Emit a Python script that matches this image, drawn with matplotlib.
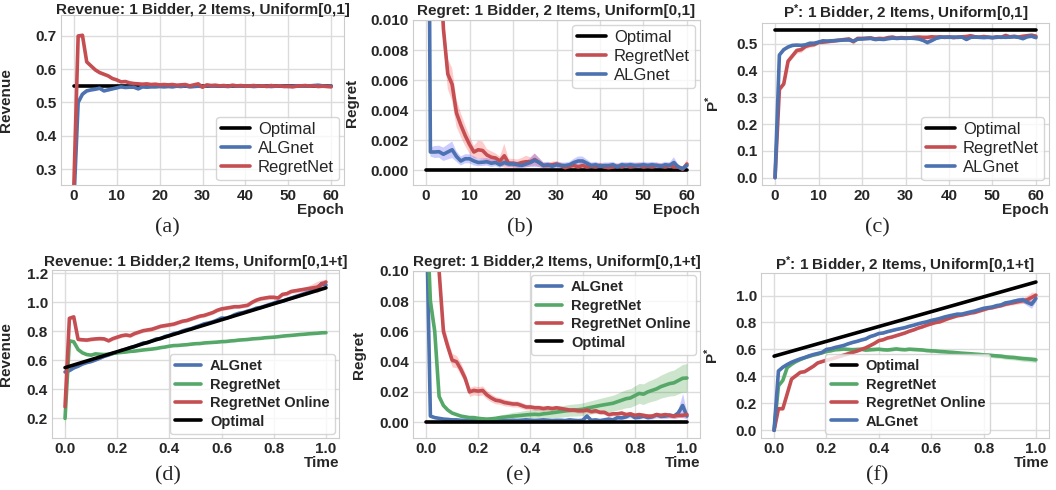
import numpy as np
import matplotlib
matplotlib.use("Agg")
import matplotlib.pyplot as plt
import seaborn as sns

sns.set_style("whitegrid")
plt.rcParams['font.family'] = ['Liberation Sans', 'DejaVu Sans']
plt.rcParams['mathtext.fontset'] = 'custom'
plt.rcParams['mathtext.rm'] = 'Liberation Sans:bold'
plt.rcParams['mathtext.it'] = 'Liberation Sans:bold'
plt.rcParams['mathtext.bf'] = 'Liberation Sans:bold'

BLUE, RED, GREEN = "#4C72B0", "#C44E52", "#55A868"

# ---------------- data: top row (epochs 0..60) ----------------
epochs = list(range(61))
optimal_top = 0.55

a_regretnet = [0.250, 0.700, 0.702, 0.622, 0.610, 0.598, 0.590, 0.585, 0.580, 0.572,
               0.568, 0.562, 0.563, 0.559, 0.557, 0.556, 0.555, 0.556, 0.554, 0.555,
               0.553, 0.554, 0.553, 0.554, 0.552, 0.553, 0.554, 0.550, 0.553, 0.556,
               0.546, 0.553, 0.551, 0.552, 0.550, 0.551, 0.549, 0.552, 0.550, 0.551,
               0.549, 0.550, 0.551, 0.549, 0.550, 0.548, 0.551, 0.549, 0.550, 0.548,
               0.549, 0.547, 0.549, 0.550, 0.551, 0.549, 0.550, 0.548, 0.549, 0.548, 0.547]
a_regretnet_sd = [0.004, 0.006, 0.006, 0.005, 0.005, 0.005, 0.005, 0.004, 0.004, 0.004,
                  0.004, 0.003, 0.003, 0.003, 0.003, 0.003, 0.003, 0.003, 0.003, 0.003,
                  0.003, 0.003, 0.003, 0.003, 0.003, 0.003, 0.003, 0.003, 0.003, 0.003,
                  0.003, 0.003, 0.003, 0.003, 0.003, 0.003, 0.003, 0.003, 0.003, 0.003,
                  0.003, 0.003, 0.003, 0.003, 0.003, 0.003, 0.003, 0.003, 0.003, 0.003,
                  0.003, 0.003, 0.003, 0.003, 0.003, 0.003, 0.003, 0.003, 0.003, 0.003, 0.003]
a_algnet = [0.200, 0.500, 0.525, 0.535, 0.538, 0.540, 0.543, 0.535, 0.538, 0.541,
            0.544, 0.547, 0.545, 0.546, 0.546, 0.541, 0.547, 0.546, 0.547, 0.547,
            0.548, 0.547, 0.548, 0.547, 0.549, 0.548, 0.550, 0.547, 0.548, 0.549,
            0.548, 0.550, 0.549, 0.549, 0.550, 0.549, 0.548, 0.550, 0.549, 0.549,
            0.550, 0.549, 0.548, 0.549, 0.550, 0.549, 0.548, 0.549, 0.550, 0.549,
            0.548, 0.549, 0.550, 0.549, 0.549, 0.550, 0.551, 0.552, 0.550, 0.549, 0.550]
a_algnet_sd = [0.004, 0.005, 0.004, 0.004, 0.004, 0.004, 0.004, 0.004, 0.004, 0.003,
               0.003, 0.003, 0.003, 0.003, 0.003, 0.003, 0.003, 0.003, 0.003, 0.003,
               0.003, 0.003, 0.003, 0.003, 0.003, 0.003, 0.003, 0.003, 0.003, 0.003,
               0.003, 0.003, 0.003, 0.003, 0.003, 0.003, 0.003, 0.003, 0.003, 0.003,
               0.003, 0.003, 0.003, 0.003, 0.003, 0.003, 0.003, 0.003, 0.003, 0.003,
               0.003, 0.003, 0.003, 0.003, 0.003, 0.003, 0.003, 0.003, 0.003, 0.003, 0.003]

b_algnet = [0.0500, 0.00120, 0.00120, 0.00122, 0.00105, 0.00120, 0.00135, 0.00090, 0.00060, 0.00075,
            0.00075, 0.00060, 0.00050, 0.00052, 0.00055, 0.00045, 0.00050, 0.00035, 0.00050, 0.00040,
            0.00040, 0.00035, 0.00030, 0.00040, 0.00050, 0.00065, 0.00050, 0.00030, 0.00035, 0.00025,
            0.00035, 0.00030, 0.00030, 0.00035, 0.00050, 0.00060, 0.00060, 0.00045, 0.00030, 0.00035,
            0.00025, 0.00030, 0.00030, 0.00035, 0.00020, 0.00035, 0.00030, 0.00035, 0.00030, 0.00030,
            0.00035, 0.00030, 0.00035, 0.00030, 0.00025, 0.00035, 0.00030, 0.00050, 0.00020, 0.00010, 0.00030]
b_algnet_sd = [0.0050, 0.00030, 0.00040, 0.00040, 0.00045, 0.00050, 0.00055, 0.00035, 0.00030, 0.00030,
               0.00030, 0.00030, 0.00025, 0.00025, 0.00025, 0.00025, 0.00025, 0.00020, 0.00020, 0.00020,
               0.00020, 0.00020, 0.00020, 0.00020, 0.00030, 0.00045, 0.00030, 0.00020, 0.00020, 0.00020,
               0.00020, 0.00020, 0.00020, 0.00020, 0.00025, 0.00030, 0.00030, 0.00025, 0.00020, 0.00020,
               0.00020, 0.00020, 0.00020, 0.00020, 0.00020, 0.00020, 0.00020, 0.00020, 0.00020, 0.00020,
               0.00020, 0.00020, 0.00020, 0.00020, 0.00020, 0.00020, 0.00020, 0.00035, 0.00015, 0.00010, 0.00020]
b_regretnet = [0.0600, 0.0400, 0.0250, 0.0150, 0.0094, 0.0064, 0.0057, 0.0038, 0.0030, 0.0023,
               0.0017, 0.0012, 0.00135, 0.00130, 0.00100, 0.00085, 0.00080, 0.00060, 0.00095, 0.00045,
               0.00045, 0.00040, 0.00050, 0.00055, 0.00055, 0.00070, 0.00050, 0.00030, 0.00030, 0.00035,
               0.00040, 0.00030, 0.00015, 0.00025, 0.00030, 0.00020, 0.00030, 0.00020, 0.00025, 0.00020,
               0.00030, 0.00020, 0.00015, 0.00020, 0.00025, 0.00020, 0.00030, 0.00020, 0.00025, 0.00030,
               0.00020, 0.00025, 0.00020, 0.00030, 0.00025, 0.00020, 0.00030, 0.00020, 0.00020, 0.00005, 0.00040]
b_regretnet_sd = [0.0050, 0.0040, 0.0030, 0.0020, 0.0010, 0.0010, 0.0011, 0.0009, 0.0008, 0.0007,
                  0.0006, 0.0004, 0.0006, 0.0006, 0.0004, 0.0004, 0.0003, 0.0003, 0.0008, 0.0003,
                  0.0003, 0.0003, 0.0003, 0.0004, 0.0003, 0.0004, 0.0003, 0.0002, 0.0002, 0.0002,
                  0.0002, 0.0002, 0.0002, 0.0002, 0.0002, 0.0002, 0.0002, 0.0002, 0.0002, 0.0002,
                  0.0002, 0.0002, 0.0002, 0.0002, 0.0002, 0.0002, 0.0002, 0.0002, 0.0002, 0.0002,
                  0.0002, 0.0002, 0.0002, 0.0002, 0.0002, 0.0002, 0.0002, 0.0002, 0.0002, 0.0001, 0.0003]

c_algnet = [0.000, 0.458, 0.478, 0.488, 0.494, 0.495, 0.494, 0.496, 0.502, 0.502,
            0.506, 0.511, 0.510, 0.511, 0.512, 0.513, 0.514, 0.514, 0.510, 0.517,
            0.518, 0.519, 0.520, 0.516, 0.517, 0.516, 0.519, 0.521, 0.520, 0.521,
            0.520, 0.521, 0.520, 0.518, 0.513, 0.505, 0.512, 0.520, 0.524, 0.525,
            0.524, 0.525, 0.524, 0.525, 0.516, 0.524, 0.525, 0.524, 0.523, 0.524,
            0.523, 0.524, 0.525, 0.524, 0.525, 0.526, 0.524, 0.519, 0.526, 0.528, 0.523]
c_algnet_sd = [0.000, 0.004, 0.005, 0.005, 0.005, 0.004, 0.004, 0.004, 0.004, 0.004,
               0.004, 0.004, 0.004, 0.004, 0.004, 0.004, 0.004, 0.004, 0.005, 0.004,
               0.004, 0.004, 0.004, 0.004, 0.004, 0.004, 0.004, 0.004, 0.004, 0.004,
               0.004, 0.004, 0.004, 0.005, 0.006, 0.008, 0.006, 0.004, 0.004, 0.004,
               0.004, 0.004, 0.004, 0.004, 0.005, 0.004, 0.004, 0.004, 0.004, 0.004,
               0.004, 0.004, 0.004, 0.004, 0.004, 0.004, 0.004, 0.005, 0.004, 0.004, 0.005]
c_regretnet = [0.000, 0.330, 0.350, 0.435, 0.455, 0.475, 0.478, 0.490, 0.495, 0.497,
               0.505, 0.506, 0.508, 0.510, 0.512, 0.514, 0.516, 0.518, 0.508, 0.520,
               0.520, 0.521, 0.522, 0.518, 0.520, 0.519, 0.523, 0.525, 0.521, 0.523,
               0.522, 0.522, 0.524, 0.525, 0.524, 0.524, 0.526, 0.525, 0.526, 0.524,
               0.526, 0.523, 0.525, 0.526, 0.527, 0.530, 0.526, 0.525, 0.527, 0.525,
               0.523, 0.526, 0.524, 0.531, 0.526, 0.528, 0.525, 0.528, 0.530, 0.532, 0.528]
c_regretnet_sd = [0.000, 0.008, 0.008, 0.008, 0.008, 0.010, 0.010, 0.008, 0.008, 0.007,
                  0.006, 0.006, 0.006, 0.006, 0.006, 0.006, 0.006, 0.007, 0.010, 0.006,
                  0.006, 0.006, 0.006, 0.008, 0.006, 0.006, 0.006, 0.006, 0.007, 0.006,
                  0.006, 0.006, 0.006, 0.006, 0.006, 0.006, 0.006, 0.006, 0.006, 0.006,
                  0.006, 0.006, 0.006, 0.006, 0.006, 0.006, 0.006, 0.006, 0.006, 0.006,
                  0.006, 0.006, 0.006, 0.010, 0.006, 0.006, 0.006, 0.006, 0.006, 0.007, 0.010]

# ---------------- data: bottom row (time 0..1, 61 steps) ----------------
time_steps = 61
optimal_t = [0.0, 1.0]
optimal_rev_bottom = [0.55, 1.10]

d_algnet = [0.520, 0.530, 0.548, 0.560, 0.575, 0.585, 0.592, 0.603, 0.615, 0.628,
            0.637, 0.648, 0.655, 0.668, 0.676, 0.688, 0.695, 0.708, 0.720, 0.722,
            0.735, 0.748, 0.750, 0.765, 0.772, 0.785, 0.790, 0.803, 0.812, 0.818,
            0.830, 0.840, 0.852, 0.858, 0.866, 0.878, 0.892, 0.890, 0.900, 0.915,
            0.925, 0.930, 0.940, 0.948, 0.960, 0.965, 0.975, 0.985, 0.995, 1.005,
            1.008, 1.020, 1.030, 1.040, 1.050, 1.060, 1.070, 1.085, 1.095, 1.130, 1.120]
d_algnet_sd = [0.010, 0.010, 0.008, 0.008, 0.008, 0.008, 0.008, 0.008, 0.008, 0.008,
               0.008, 0.008, 0.008, 0.008, 0.008, 0.008, 0.008, 0.008, 0.008, 0.008,
               0.008, 0.008, 0.008, 0.008, 0.008, 0.008, 0.008, 0.008, 0.008, 0.008,
               0.008, 0.008, 0.008, 0.010, 0.008, 0.008, 0.010, 0.008, 0.008, 0.008,
               0.010, 0.008, 0.008, 0.008, 0.010, 0.010, 0.010, 0.010, 0.010, 0.012,
               0.010, 0.010, 0.010, 0.012, 0.012, 0.012, 0.015, 0.015, 0.015, 0.020, 0.015]
d_regretnet = [0.200, 0.735, 0.728, 0.675, 0.652, 0.640, 0.636, 0.645, 0.642, 0.640,
               0.643, 0.648, 0.652, 0.655, 0.658, 0.662, 0.664, 0.668, 0.672, 0.675,
               0.678, 0.682, 0.688, 0.692, 0.698, 0.702, 0.703, 0.706, 0.708, 0.712,
               0.715, 0.716, 0.720, 0.722, 0.724, 0.726, 0.729, 0.730, 0.734, 0.736,
               0.740, 0.742, 0.744, 0.748, 0.750, 0.752, 0.756, 0.758, 0.760, 0.763,
               0.767, 0.770, 0.772, 0.775, 0.778, 0.780, 0.783, 0.785, 0.787, 0.790, 0.791]
d_regretnet_sd = [0.080, 0.010, 0.008, 0.006, 0.005, 0.005, 0.005, 0.005, 0.005, 0.005,
                  0.005, 0.005, 0.005, 0.005, 0.005, 0.005, 0.005, 0.005, 0.005, 0.005,
                  0.005, 0.005, 0.005, 0.005, 0.005, 0.005, 0.005, 0.005, 0.005, 0.005,
                  0.005, 0.005, 0.005, 0.005, 0.005, 0.005, 0.005, 0.005, 0.005, 0.005,
                  0.005, 0.005, 0.005, 0.005, 0.005, 0.005, 0.005, 0.005, 0.005, 0.005,
                  0.005, 0.005, 0.005, 0.005, 0.005, 0.005, 0.005, 0.005, 0.005, 0.006, 0.006]
d_online = [0.280, 0.890, 0.900, 0.745, 0.742, 0.740, 0.745, 0.748, 0.750, 0.748,
            0.735, 0.750, 0.760, 0.770, 0.775, 0.770, 0.785, 0.795, 0.805, 0.810,
            0.815, 0.825, 0.835, 0.840, 0.845, 0.850, 0.860, 0.870, 0.875, 0.885,
            0.895, 0.905, 0.910, 0.920, 0.930, 0.945, 0.955, 0.960, 0.965, 0.970,
            0.970, 0.975, 0.980, 1.000, 1.015, 1.025, 1.030, 1.035, 1.035, 1.030,
            1.055, 1.060, 1.075, 1.080, 1.085, 1.090, 1.095, 1.100, 1.105, 1.125, 1.140]
d_online_sd = [0.020, 0.012, 0.012, 0.012, 0.012, 0.012, 0.012, 0.012, 0.012, 0.012,
               0.012, 0.012, 0.012, 0.012, 0.012, 0.012, 0.012, 0.012, 0.012, 0.012,
               0.012, 0.012, 0.012, 0.012, 0.012, 0.012, 0.012, 0.012, 0.012, 0.012,
               0.012, 0.012, 0.012, 0.012, 0.012, 0.012, 0.012, 0.012, 0.012, 0.012,
               0.012, 0.012, 0.012, 0.012, 0.012, 0.012, 0.014, 0.014, 0.014, 0.014,
               0.014, 0.014, 0.014, 0.015, 0.015, 0.015, 0.020, 0.030, 0.040, 0.030, 0.020]

e_algnet = [0.150, 0.0040, 0.0030, 0.0025, 0.0020, 0.0018, 0.0015, 0.0015, 0.0012, 0.0012,
            0.0010, 0.0012, 0.0010, 0.0012, 0.0010, 0.0012, 0.0010, 0.0012, 0.0010, 0.0010,
            0.0012, 0.0010, 0.0012, 0.0015, 0.0012, 0.0010, 0.0012, 0.0015, 0.0012, 0.0010,
            0.0012, 0.0012, 0.0010, 0.0015, 0.0012, 0.0010, 0.0012, 0.0040, 0.0012, 0.0015,
            0.0010, 0.0015, 0.0020, 0.0015, 0.0030, 0.0028, 0.0035, 0.0050, 0.0030, 0.0032,
            0.0040, 0.0030, 0.0035, 0.0048, 0.0038, 0.0040, 0.0045, 0.0040, 0.0060, 0.0110, 0.0040]
e_algnet_sd = [0.010, 0.0010, 0.0008, 0.0006, 0.0006, 0.0005, 0.0005, 0.0005, 0.0005, 0.0005,
               0.0005, 0.0005, 0.0005, 0.0005, 0.0005, 0.0005, 0.0005, 0.0005, 0.0005, 0.0005,
               0.0005, 0.0005, 0.0005, 0.0006, 0.0005, 0.0005, 0.0005, 0.0006, 0.0005, 0.0005,
               0.0005, 0.0005, 0.0005, 0.0006, 0.0005, 0.0005, 0.0005, 0.0015, 0.0005, 0.0006,
               0.0005, 0.0006, 0.0008, 0.0006, 0.0012, 0.0010, 0.0012, 0.0020, 0.0012, 0.0012,
               0.0015, 0.0012, 0.0014, 0.0020, 0.0015, 0.0016, 0.0018, 0.0016, 0.0030, 0.0080, 0.0020]
e_regretnet = [0.150, 0.0800, 0.0600, 0.0170, 0.0110, 0.0080, 0.0060, 0.0050, 0.0040, 0.0035,
               0.0030, 0.0030, 0.0025, 0.0022, 0.0020, 0.0022, 0.0025, 0.0030, 0.0033, 0.0036,
               0.0040, 0.0042, 0.0045, 0.0048, 0.0050, 0.0052, 0.0050, 0.0055, 0.0058, 0.0062,
               0.0066, 0.0070, 0.0074, 0.0078, 0.0080, 0.0082, 0.0085, 0.0092, 0.0098, 0.0104,
               0.0110, 0.0115, 0.0120, 0.0125, 0.0135, 0.0145, 0.0155, 0.0160, 0.0175, 0.0190,
               0.0185, 0.0200, 0.0210, 0.0220, 0.0235, 0.0245, 0.0255, 0.0260, 0.0275, 0.0290, 0.0292]
e_regretnet_sd = [0.010, 0.0050, 0.0050, 0.0020, 0.0010, 0.0008, 0.0006, 0.0005, 0.0005, 0.0005,
                  0.0005, 0.0005, 0.0005, 0.0005, 0.0006, 0.0008, 0.0012, 0.0016, 0.0020, 0.0022,
                  0.0025, 0.0027, 0.0028, 0.0030, 0.0030, 0.0031, 0.0032, 0.0033, 0.0034, 0.0035,
                  0.0036, 0.0037, 0.0038, 0.0039, 0.0040, 0.0041, 0.0042, 0.0043, 0.0044, 0.0045,
                  0.0047, 0.0049, 0.0051, 0.0053, 0.0055, 0.0058, 0.0060, 0.0062, 0.0064, 0.0066,
                  0.0068, 0.0070, 0.0072, 0.0074, 0.0076, 0.0079, 0.0082, 0.0085, 0.0088, 0.0092, 0.0095]
e_online = [0.250, 0.2000, 0.1500, 0.1000, 0.0600, 0.0500, 0.0410, 0.0400, 0.0350, 0.0290,
            0.0200, 0.0210, 0.0205, 0.0210, 0.0180, 0.0160, 0.0145, 0.0140, 0.0130, 0.0125,
            0.0120, 0.0120, 0.0110, 0.0100, 0.0100, 0.0095, 0.0095, 0.0090, 0.0095, 0.0090,
            0.0095, 0.0090, 0.0085, 0.0080, 0.0080, 0.0075, 0.0075, 0.0080, 0.0070, 0.0075,
            0.0065, 0.0065, 0.0050, 0.0055, 0.0055, 0.0060, 0.0050, 0.0055, 0.0045, 0.0050,
            0.0045, 0.0040, 0.0040, 0.0050, 0.0045, 0.0050, 0.0045, 0.0040, 0.0045, 0.0045, 0.0050]
e_online_sd = [0.020, 0.0200, 0.0150, 0.0080, 0.0050, 0.0045, 0.0045, 0.0040, 0.0040, 0.0035,
               0.0030, 0.0030, 0.0030, 0.0030, 0.0028, 0.0026, 0.0024, 0.0022, 0.0022, 0.0020,
               0.0020, 0.0020, 0.0020, 0.0018, 0.0018, 0.0018, 0.0018, 0.0016, 0.0016, 0.0016,
               0.0016, 0.0016, 0.0015, 0.0015, 0.0015, 0.0015, 0.0015, 0.0015, 0.0014, 0.0014,
               0.0014, 0.0014, 0.0014, 0.0014, 0.0014, 0.0014, 0.0014, 0.0014, 0.0014, 0.0014,
               0.0014, 0.0014, 0.0014, 0.0014, 0.0014, 0.0014, 0.0014, 0.0014, 0.0014, 0.0014, 0.0014]

optimal_p_bottom = [0.55, 1.10]
f_algnet = [0.000, 0.440, 0.468, 0.488, 0.505, 0.518, 0.530, 0.540, 0.552, 0.562,
            0.570, 0.578, 0.600, 0.605, 0.615, 0.622, 0.630, 0.642, 0.652, 0.660,
            0.670, 0.678, 0.695, 0.705, 0.718, 0.722, 0.732, 0.740, 0.748, 0.755,
            0.762, 0.772, 0.780, 0.790, 0.798, 0.805, 0.815, 0.822, 0.830, 0.840,
            0.848, 0.855, 0.862, 0.862, 0.870, 0.878, 0.885, 0.895, 0.905, 0.910,
            0.915, 0.925, 0.930, 0.945, 0.950, 0.958, 0.965, 0.968, 0.950, 0.935, 0.978]
f_algnet_sd = [0.000, 0.008, 0.008, 0.008, 0.008, 0.008, 0.008, 0.008, 0.008, 0.008,
               0.008, 0.008, 0.008, 0.008, 0.008, 0.008, 0.008, 0.008, 0.008, 0.008,
               0.008, 0.008, 0.008, 0.008, 0.008, 0.008, 0.008, 0.008, 0.008, 0.008,
               0.008, 0.008, 0.008, 0.008, 0.008, 0.008, 0.008, 0.008, 0.008, 0.008,
               0.010, 0.010, 0.010, 0.012, 0.012, 0.012, 0.012, 0.012, 0.012, 0.014,
               0.014, 0.014, 0.016, 0.016, 0.018, 0.018, 0.020, 0.022, 0.025, 0.030, 0.020]
f_regretnet = [0.000, 0.330, 0.370, 0.465, 0.490, 0.510, 0.525, 0.538, 0.548, 0.558,
               0.565, 0.575, 0.585, 0.590, 0.598, 0.600, 0.603, 0.600, 0.598, 0.600,
               0.602, 0.595, 0.598, 0.600, 0.602, 0.598, 0.596, 0.600, 0.604, 0.600,
               0.598, 0.602, 0.600, 0.598, 0.596, 0.592, 0.590, 0.588, 0.585, 0.583,
               0.580, 0.578, 0.575, 0.572, 0.570, 0.568, 0.565, 0.563, 0.560, 0.558,
               0.555, 0.552, 0.550, 0.545, 0.542, 0.540, 0.536, 0.532, 0.530, 0.527, 0.523]
f_regretnet_sd = [0.000, 0.008, 0.008, 0.008, 0.008, 0.008, 0.008, 0.008, 0.008, 0.008,
                  0.008, 0.008, 0.009, 0.009, 0.010, 0.010, 0.011, 0.011, 0.012, 0.012,
                  0.012, 0.012, 0.012, 0.012, 0.012, 0.012, 0.012, 0.012, 0.012, 0.012,
                  0.012, 0.012, 0.012, 0.012, 0.012, 0.012, 0.013, 0.013, 0.013, 0.013,
                  0.014, 0.014, 0.014, 0.014, 0.015, 0.015, 0.015, 0.015, 0.016, 0.016,
                  0.016, 0.017, 0.017, 0.018, 0.018, 0.018, 0.019, 0.019, 0.020, 0.020, 0.020]
f_online = [0.000, 0.160, 0.160, 0.270, 0.380, 0.405, 0.430, 0.435, 0.455, 0.475,
            0.500, 0.510, 0.520, 0.528, 0.538, 0.548, 0.558, 0.568, 0.578, 0.588,
            0.600, 0.612, 0.628, 0.645, 0.665, 0.672, 0.685, 0.692, 0.702, 0.712,
            0.722, 0.735, 0.745, 0.758, 0.768, 0.780, 0.790, 0.800, 0.805, 0.818,
            0.830, 0.840, 0.850, 0.855, 0.862, 0.870, 0.875, 0.885, 0.895, 0.905,
            0.910, 0.918, 0.925, 0.935, 0.942, 0.948, 0.955, 0.962, 0.968, 0.985, 1.002]
f_online_sd = [0.000, 0.008, 0.008, 0.008, 0.008, 0.008, 0.008, 0.008, 0.008, 0.008,
               0.008, 0.008, 0.008, 0.008, 0.008, 0.008, 0.008, 0.008, 0.008, 0.008,
               0.008, 0.008, 0.008, 0.008, 0.008, 0.008, 0.008, 0.008, 0.008, 0.008,
               0.008, 0.008, 0.008, 0.008, 0.010, 0.010, 0.010, 0.012, 0.010, 0.010,
               0.010, 0.010, 0.010, 0.010, 0.010, 0.010, 0.012, 0.012, 0.012, 0.012,
               0.012, 0.012, 0.012, 0.014, 0.014, 0.016, 0.018, 0.020, 0.030, 0.040, 0.020]

# ---------------- figure ----------------
W, H = 1056, 490
fig = plt.figure(figsize=(W / 100, H / 100), dpi=100)


def add_axes(l, t, r, b):
    return fig.add_axes([l / W, 1 - b / H, (r - l) / W, (b - t) / H])


LW = 2.6
TICK_FS = 11


def style(ax, title, ylabel, xlabel, ylab_x, tpad):
    ax.set_title(title, fontsize=11, fontweight='bold', pad=tpad)
    ax.set_ylabel(ylabel, fontsize=11, fontweight='bold')
    ax.yaxis.set_label_coords(ylab_x, 0.5)
    ax.set_xlabel(xlabel, fontsize=11, fontweight='bold', loc='right', labelpad=0)
    for lab in ax.get_xticklabels() + ax.get_yticklabels():
        lab.set_fontweight('bold')
        lab.set_fontsize(TICK_FS)
    ax.tick_params(axis='both', pad=3, length=0)
    for s in ax.spines.values():
        s.set_color('#cccccc')
    ax.grid(True, color='#dcdcdc', lw=1.0)


def band(ax, x, m, sd, color, alpha=0.25):
    m = np.asarray(m)
    sd = np.asarray(sd)
    ax.fill_between(x, m - sd, m + sd, color=color, alpha=alpha, lw=0)


x_top = np.asarray(epochs)
x_bot = np.linspace(0, 1, time_steps)

LEG_T = dict(fontsize=12, handlelength=1.7, borderaxespad=0.3,
             labelspacing=0.25, handletextpad=0.5, borderpad=0.3)

# (a)
ax = add_axes(61, 15, 344, 185)
ax.plot([x_top[0], x_top[-1]], [optimal_top, optimal_top], color='black', lw=LW, label='Optimal')
band(ax, x_top, a_algnet, a_algnet_sd, 'blue', 0.2)
ax.plot(x_top, a_algnet, color=BLUE, lw=LW, label='ALGnet')
band(ax, x_top, a_regretnet, a_regretnet_sd, 'red', 0.2)
ax.plot(x_top, a_regretnet, color=RED, lw=LW, label='RegretNet')
ax.set_xlim(-3, 63)
ax.set_ylim(0.252, 0.763)
ax.set_yticks([0.3, 0.4, 0.5, 0.6, 0.7])
ax.set_xticks([0, 10, 20, 30, 40, 50, 60])
style(ax, 'Revenue: 1 Bidder, 2 Items, Uniform[0,1]', 'Revenue', 'Epoch', -0.17, 0.8)
ax.legend(loc='lower right', **LEG_T)

# (b)
ax = add_axes(413, 20, 700, 185)
ax.plot([x_top[0], x_top[-1]], [0, 0], color='black', lw=LW, label='Optimal')
band(ax, x_top, b_regretnet, b_regretnet_sd, 'red', 0.2)
ax.plot(x_top, b_regretnet, color=RED, lw=LW, label='RegretNet')
band(ax, x_top, b_algnet, b_algnet_sd, 'blue', 0.2)
ax.plot(x_top, b_algnet, color=BLUE, lw=LW, label='ALGnet')
ax.set_xlim(-3, 63)
ax.set_ylim(-0.001, 0.010)
ax.set_yticks([0.0, 0.002, 0.004, 0.006, 0.008, 0.010])
ax.set_xticks([0, 10, 20, 30, 40, 50, 60])
style(ax, 'Regret: 1 Bidder, 2 Items, Uniform[0,1]', 'Regret', 'Epoch', -0.188, 3.5)
ax.legend(loc='upper right', **LEG_T)

# (c)
ax = add_axes(762, 23, 1049, 185)
ax.plot([x_top[0], x_top[-1]], [optimal_top, optimal_top], color='black', lw=LW, label='Optimal')
band(ax, x_top, c_regretnet, c_regretnet_sd, 'red', 0.2)
ax.plot(x_top, c_regretnet, color=RED, lw=LW, label='RegretNet')
band(ax, x_top, c_algnet, c_algnet_sd, 'blue', 0.2)
ax.plot(x_top, c_algnet, color=BLUE, lw=LW, label='ALGnet')
ax.set_xlim(-3, 63)
ax.set_ylim(-0.0275, 0.5775)
ax.set_yticks([0.0, 0.1, 0.2, 0.3, 0.4, 0.5])
ax.set_xticks([0, 10, 20, 30, 40, 50, 60])
style(ax, r'P$^{*}$: 1 Bidder, 2 Items, Uniform[0,1]', r'P$^{*}$', 'Epoch', -0.139, 3.5)
ax.legend(loc='lower right', **LEG_T)

LEG_B = dict(handlelength=1.8, labelspacing=0.3, handletextpad=0.6,
             borderpad=0.35, prop={'weight': 'bold', 'size': 10.5})

# (d)
ax = add_axes(52, 270, 339, 438)
band(ax, x_bot, d_algnet, d_algnet_sd, 'blue', 0.2)
ax.plot(x_bot, d_algnet, color=BLUE, lw=LW, label='ALGnet')
band(ax, x_bot, d_regretnet, d_regretnet_sd, 'green', 0.2)
ax.plot(x_bot, d_regretnet, color=GREEN, lw=LW, label='RegretNet')
band(ax, x_bot, d_online, d_online_sd, 'red', 0.2)
ax.plot(x_bot, d_online, color=RED, lw=LW, label='RegretNet Online')
ax.plot(optimal_t, optimal_rev_bottom, color='black', lw=LW, label='Optimal')
ax.set_xlim(-0.05, 1.05)
ax.set_ylim(0.065, 1.223)
ax.set_yticks([0.2, 0.4, 0.6, 0.8, 1.0, 1.2])
ax.set_xticks([0.0, 0.2, 0.4, 0.6, 0.8, 1.0])
style(ax, 'Revenue: 1 Bidder,2 Items, Uniform[0,1+t]', 'Revenue', 'Time', -0.136, 3.0)
ax.legend(loc='lower right', borderaxespad=0.3, **LEG_B)

# (e)
ax = add_axes(413, 271, 700, 438)
band(ax, x_bot, e_algnet, e_algnet_sd, 'blue', 0.2)
ax.plot(x_bot, e_algnet, color=BLUE, lw=LW, label='ALGnet')
band(ax, x_bot, e_regretnet, e_regretnet_sd, 'green', 0.2)
ax.plot(x_bot, e_regretnet, color=GREEN, lw=LW, label='RegretNet')
band(ax, x_bot, e_online, e_online_sd, 'red', 0.2)
ax.plot(x_bot, e_online, color=RED, lw=LW, label='RegretNet Online')
ax.plot(optimal_t, [0, 0], color='black', lw=LW, label='Optimal')
ax.set_xlim(-0.05, 1.05)
ax.set_ylim(-0.0105, 0.100)
ax.set_yticks([0.0, 0.02, 0.04, 0.06, 0.08, 0.10])
ax.set_xticks([0.0, 0.2, 0.4, 0.6, 0.8, 1.0])
style(ax, 'Regret: 1 Bidder,2 Items, Uniform[0,1+t]', 'Regret', 'Time', -0.164, 3.5)
ax.legend(loc='upper right', borderaxespad=0.3, **LEG_B)

# (f)
ax = add_axes(761, 273, 1049, 438)
ax.plot(optimal_t, optimal_p_bottom, color='black', lw=LW, label='Optimal')
band(ax, x_bot, f_regretnet, f_regretnet_sd, 'green', 0.2)
ax.plot(x_bot, f_regretnet, color=GREEN, lw=LW, label='RegretNet')
band(ax, x_bot, f_online, f_online_sd, 'red', 0.2)
ax.plot(x_bot, f_online, color=RED, lw=LW, label='RegretNet Online')
band(ax, x_bot, f_algnet, f_algnet_sd, 'blue', 0.2)
ax.plot(x_bot, f_algnet, color=BLUE, lw=LW, label='ALGnet')
ax.set_xlim(-0.05, 1.05)
ax.set_ylim(-0.057, 1.167)
ax.set_yticks([0.0, 0.2, 0.4, 0.6, 0.8, 1.0])
ax.set_xticks([0.0, 0.2, 0.4, 0.6, 0.8, 1.0])
style(ax, r'P$^{*}$: 1 Bidder, 2 Items, Uniform[0,1+t]', r'P$^{*}$', 'Time', -0.139, 2.5)
ax.legend(loc='lower center', borderaxespad=0.3, bbox_to_anchor=(0.51, 0.0), **LEG_B)

# sub-captions
for lbl, x, y in [('(a)', 167, 228), ('(b)', 520, 228), ('(c)', 877, 228),
                  ('(d)', 168, 476), ('(e)', 518, 476), ('(f)', 877, 476)]:
    fig.text(x / W, 1 - y / H, lbl, ha='center', va='center', fontsize=16,
             family=['Liberation Serif', 'DejaVu Serif'])

fig.savefig('out.png', dpi=100)
